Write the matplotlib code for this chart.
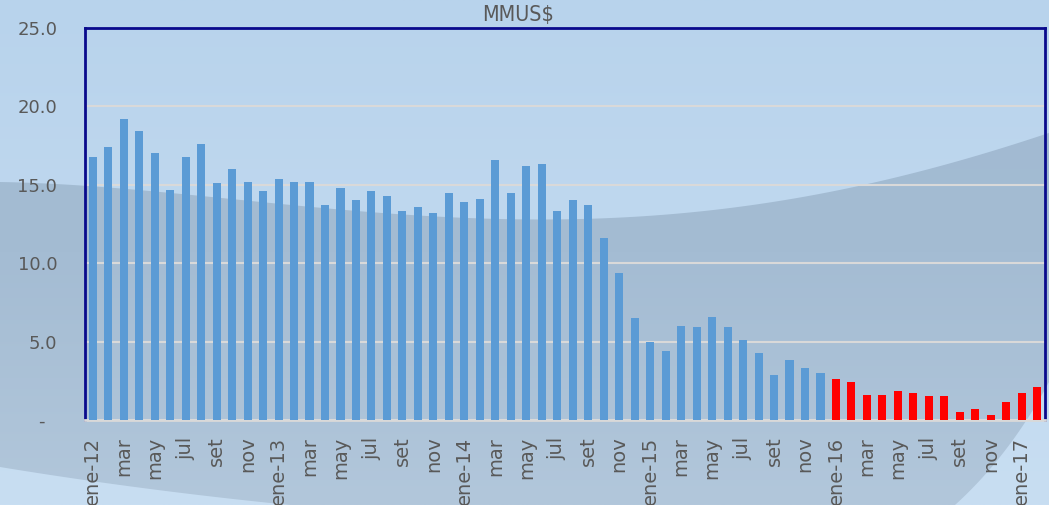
import numpy as np
import matplotlib
matplotlib.use("Agg")
import matplotlib.pyplot as plt
from matplotlib.patches import Polygon
from matplotlib.colors import LinearSegmentedColormap

# ── Data ──────────────────────────────────────────────────────────────────────
blue_vals = [16.8, 17.4, 19.2, 18.4, 17.0, 14.7, 16.8, 17.6, 15.1, 16.0, 15.2, 14.6,
             15.4, 15.2, 15.2, 13.7, 14.8, 14.0, 14.6, 14.3, 13.3, 13.6, 13.2, 14.5,
             13.9, 14.1, 16.6, 14.5, 16.2, 16.3, 13.3, 14.0, 13.7, 11.6, 9.4, 6.5,
             5.0, 4.4, 6.0, 5.9, 6.6, 5.9, 5.1, 4.3, 2.9, 3.8, 3.3, 3.0]
red_vals = [2.6, 2.4, 1.6, 1.6, 1.85, 1.7, 1.5, 1.5, 0.5, 0.7, 0.3, 1.15, 1.7, 2.1]

month_names = ["ene", "feb", "mar", "abr", "may", "jun",
               "jul", "ago", "set", "oct", "nov", "dic"]
years = [12, 13, 14, 15, 16, 17]

y_ticks = [0, 5, 10, 15, 20, 25]
y_labels = ["-  ", "5.0", "10.0", "15.0", "20.0", "25.0"]

# ── Styles ────────────────────────────────────────────────────────────────────
W, H = 1049, 505
LIGHT_BG = "#bdd7ee"
BLUE = "#5b9bd5"
RED = "#ff0000"
NAVY = "#0a0a8c"
GRID = "#d9d9d9"
TXT = "#595959"

labels = []
for y in years:
    for m, name in enumerate(month_names):
        labels.append(f"{name}-{y}" if m == 0 else name)
n_total = len(blue_vals) + len(red_vals)
labels = labels[:n_total]

fig = plt.figure(figsize=(W / 100, H / 100), dpi=100, facecolor=LIGHT_BG)

# ── Background swoosh (decoration) ───────────────────────────────────────────
bg = fig.add_axes([0, 0, 1, 1], zorder=0)
bg.set_xlim(0, W)
bg.set_ylim(H, 0)
bg.axis("off")
grad = np.repeat(np.linspace(0, 1, 200)[:, None], 2, axis=1)
bg.imshow(grad, extent=[0, W, H, 0], aspect="auto", zorder=0,
          cmap=LinearSegmentedColormap.from_list("bgl", ["#b8d3ec", "#c8def2"]))

tx = np.array([0, 300, 520, 750, 870, 1049])
ty = np.array([182, 206, 219, 206, 183, 133])
top_fit = np.polyfit(tx, ty, 4)
xs_top = np.linspace(0, W, 120)
ys_top = np.polyval(top_fit, xs_top)

t = np.linspace(0, 1, 40)
rx = (1 - t) ** 2 * 1049 + 2 * (1 - t) * t * 1010 + t ** 2 * 955
ry = (1 - t) ** 2 * 382 + 2 * (1 - t) * t * 455 + t ** 2 * 505
lx = (1 - t) ** 2 * 290 + 2 * (1 - t) * t * 140 + t ** 2 * 0
ly = (1 - t) ** 2 * 505 + 2 * (1 - t) * t * 490 + t ** 2 * 467

pts = list(zip(xs_top, ys_top)) + list(zip(rx, ry)) + list(zip(lx, ly))
band = Polygon(pts, closed=True, facecolor="none", edgecolor="none")
bg.add_patch(band)
im = bg.imshow(grad, extent=[0, W, H, 0], aspect="auto", zorder=1,
               cmap=LinearSegmentedColormap.from_list(
                   "bgg", ["#a0b9d1", "#a4bcd3", "#b2c7db"]))
im.set_clip_path(band)

# ── Main chart ────────────────────────────────────────────────────────────────
ax = fig.add_axes([85 / W, 1 - 420 / H, 960 / W, 392 / H], zorder=2)
ax.patch.set_alpha(0)

x_blue = np.arange(len(blue_vals))
x_red = np.arange(len(blue_vals), n_total)
ax.bar(x_blue, blue_vals, width=0.52, color=BLUE, zorder=3)
ax.bar(x_red, red_vals, width=0.52, color=RED, zorder=3)

ax.set_xlim(-0.5, n_total - 0.5)
ax.set_ylim(0, 25)
ax.set_yticks(y_ticks)
ax.set_yticklabels(y_labels, fontsize=13, color=TXT, family="DejaVu Sans")
ax.tick_params(axis="y", length=0, pad=20)

ax.set_xticks(np.arange(0, n_total, 2))
ax.set_xticklabels(labels[::2], rotation=90, fontsize=14, color=TXT,
                   va="top", ha="center")
ax.tick_params(axis="x", length=0, pad=12)

ax.grid(axis="y", color=GRID, linewidth=1.5, zorder=1)
ax.set_axisbelow(True)

for side in ("left", "top", "right"):
    ax.spines[side].set_color(NAVY)
    ax.spines[side].set_linewidth(2)
ax.spines["bottom"].set_color(GRID)
ax.spines["bottom"].set_linewidth(2)

fig.text(518 / W, 1 - 15 / H, "MMUS$", ha="center", va="center",
         fontsize=15.5, color=TXT, family="DejaVu Sans", fontstretch="condensed")

fig.savefig("out.png", dpi=100, facecolor=LIGHT_BG)
